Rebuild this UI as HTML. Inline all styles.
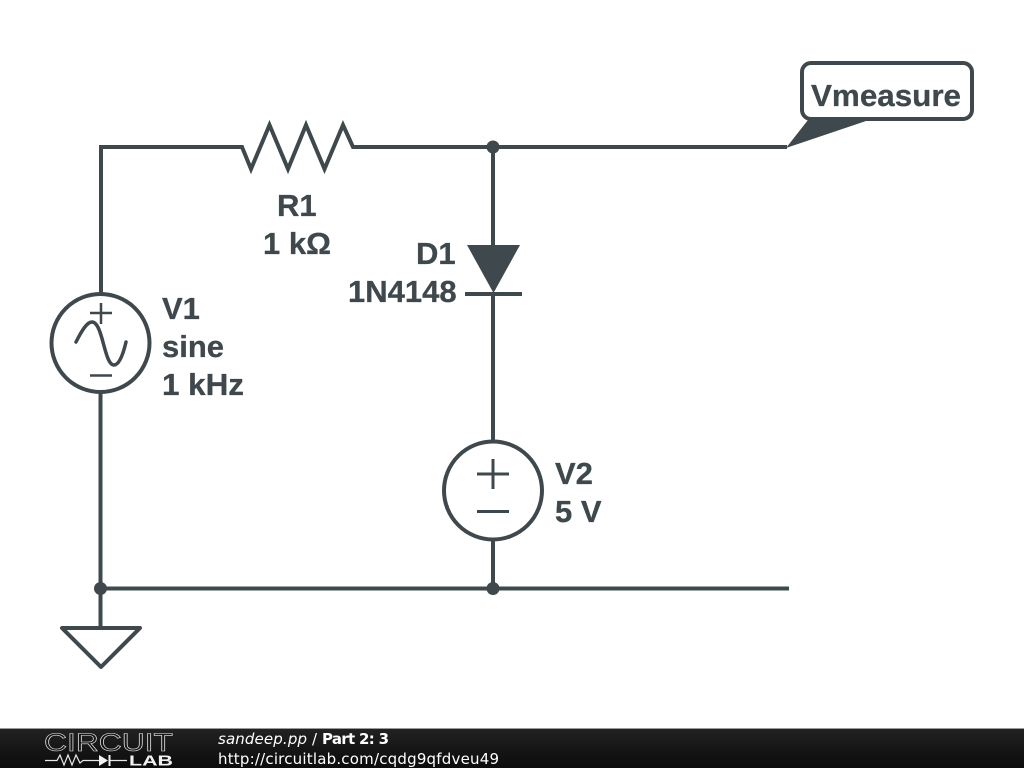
<!DOCTYPE html>
<html>
<head>
<meta charset="utf-8">
<style>
html,body{margin:0;padding:0;background:#fff;width:1024px;height:768px;overflow:hidden}
svg{display:block}
.t{font-family:"Liberation Sans",sans-serif;font-weight:700;font-size:31px;fill:#3f484d;stroke:#3f484d;stroke-width:0.3px}
.f{font-family:"DejaVu Sans",sans-serif;font-size:15px;fill:#fff}
</style>
</head>
<body>
<svg width="1024" height="768" viewBox="0 0 1024 768" xmlns="http://www.w3.org/2000/svg">
<defs>
<linearGradient id="bar" x1="0" y1="0" x2="0" y2="1">
<stop offset="0" stop-color="#222"/>
<stop offset="0.5" stop-color="#161616"/>
<stop offset="1" stop-color="#0c0c0c"/>
</linearGradient>
</defs>
<rect width="1024" height="768" fill="#fff"/>
<g fill="none" stroke="#3f484d" stroke-width="4" stroke-linejoin="miter" stroke-linecap="butt">
<path d="M101 293V147H242L251 169L269.500 125L288 169L306 125L324.500 169L343 125L353 147H787"/>
<path d="M100.500 393V627"/>
<path d="M100 588.500H789"/>
<path d="M493 147V245"/>
<path d="M493 295V441"/>
<path d="M493 540V589"/>
<circle cx="100.500" cy="343" r="49"/>
<circle cx="493" cy="490.500" r="49"/>
<path d="M62 628H140L101 667Z" stroke-linejoin="round"/>
<path d="M465 294H522"/>
<rect x="802" y="63" width="170" height="56" rx="9"/>
</g>
<g fill="none" stroke="#3f484d" stroke-width="2.500">
<path d="M90 313H112M101 303V324"/>
<path d="M90 375.500H112"/>
<path d="M76 342C82 330 87 322 92 322C103 322 104 365 114 365C119 365 123 355 126 342" stroke-width="3.500" stroke-linecap="round"/>
</g>
<g fill="none" stroke="#3f484d" stroke-width="3">
<path d="M477 474H509M493 459V489"/>
<path d="M477 511.500H509"/>
</g>
<path d="M467 245H520L493.500 293Z" fill="#3f484d"/>
<path d="M808 120H869L786 148Z" fill="#3f484d"/>
<g fill="#3f484d">
<circle cx="493" cy="147" r="6.500"/>
<circle cx="493" cy="588.500" r="6.500"/>
<circle cx="100.500" cy="588.500" r="6.500"/>
</g>
<text class="t" x="811" y="106" textLength="150" lengthAdjust="spacingAndGlyphs">Vmeasure</text>
<text class="t" x="277" y="216">R1</text>
<text class="t" x="263" y="254">1 kΩ</text>
<text class="t" x="416" y="264">D1</text>
<text class="t" x="348" y="302">1N4148</text>
<text class="t" x="162" y="319">V1</text>
<text class="t" x="162" y="357">sine</text>
<text class="t" x="162" y="395" textLength="82" lengthAdjust="spacingAndGlyphs">1 kHz</text>
<text class="t" x="555" y="484">V2</text>
<text class="t" x="555" y="522">5 V</text>
<rect x="0" y="729" width="1024" height="39" fill="url(#bar)"/>
<rect x="0" y="728" width="1024" height="1" fill="#9a9a9a"/>
<text x="44" y="751" font-family="'Liberation Sans',sans-serif" font-size="25" fill="#161616" stroke="#e8e8e8" stroke-width="0.600" textLength="129" lengthAdjust="spacingAndGlyphs">CIRCUIT</text>
<path d="M45 760.500H57L60 755L64 765L68 755L72 765L76 755L80 763L83 760.500H99M110 760.500H127" fill="none" stroke="#e8e8e8" stroke-width="1.200"/>
<path d="M99 755L108 760.500L99 766Z M108.500 755H110.500V766H108.500Z" fill="#f2f2f2"/>
<text x="129" y="765.500" font-family="'Liberation Sans',sans-serif" font-weight="700" font-size="15" fill="#f2f2f2" textLength="44" lengthAdjust="spacingAndGlyphs">LAB</text>
<text class="f" x="218" y="744" font-style="italic" textLength="89">sandeep.pp</text>
<text class="f" x="312" y="744">/</text>
<text class="f" x="322" y="744" font-weight="700" textLength="67">Part 2: 3</text>
<text class="f" x="218" y="764" textLength="281">http://circuitlab.com/cqdg9qfdveu49</text>
</svg>
</body>
</html>
